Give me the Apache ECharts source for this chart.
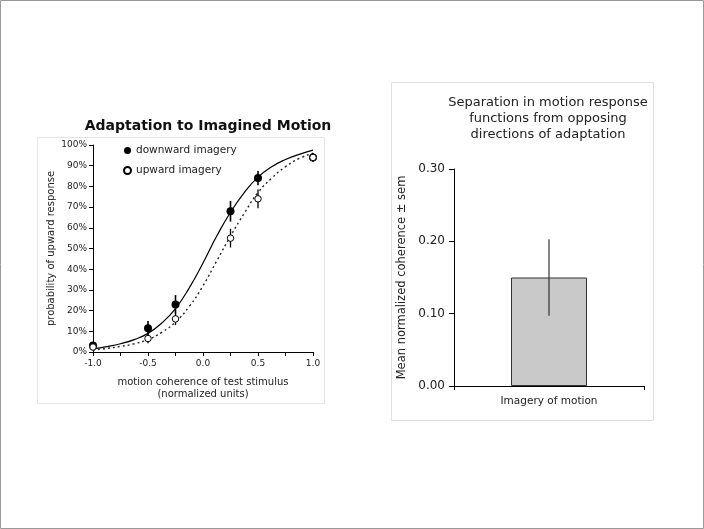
<!DOCTYPE html>
<html><head><meta charset="utf-8">
<script src="https://cdn.jsdelivr.net/npm/echarts@6/dist/echarts.min.js"></script>
<style>html,body{margin:0;padding:0;background:#fff}#c{width:704px;height:529px}</style>
</head><body><div id="c"></div>
<script>
// ---- Left chart data ----
var coherence = [-1.0, -0.5, -0.25, 0.25, 0.5, 1.0];
var downwardValues = [3.2, 11.5, 23.0, 68.0, 84.0, 94.0];
var downwardErrors = [1.0, 3.5, 4.5, 5.0, 3.5, 2.0];
var upwardValues = [2.4, 6.5, 16.0, 55.0, 74.0, 94.0];
var upwardErrors = [1.0, 2.3, 3.0, 4.5, 4.5, 2.0];
var curveX = [-1, -0.875, -0.75, -0.625, -0.5, -0.375, -0.25, -0.125, 0, 0.125, 0.25, 0.375, 0.5, 0.625, 0.75, 0.875, 1];
var downwardFit = [1.5, 2.6, 4, 6, 9, 14, 21, 31, 43, 56, 67.5, 77, 84.5, 89.5, 93, 95.5, 97.5];
var upwardFit = [1, 1.7, 2.7, 4, 6, 9.5, 14.5, 22, 32, 44, 56, 67, 77, 84, 89.5, 93.5, 96];
var xTickLabels = ['-1.0', '-0.5', '0.0', '0.5', '1.0'];
// ---- Right chart data ----
var barCategories = ['Imagery of motion'];
var barValues = [0.15];
var barErrors = [0.053];

var F = 'DejaVu Sans';
function zip(a, b) { return a.map(function (v, i) { return [v, b[i]]; }); }
function zip3(a, b, c) { return a.map(function (v, i) { return [v, b[i], c[i]]; }); }
function errRender(color, w) {
  return function (params, api) {
    var x = api.value(0), y = api.value(1), e = api.value(2);
    var p1 = api.coord([x, y - e]), p2 = api.coord([x, y + e]);
    return { type: 'line', shape: { x1: p1[0], y1: p1[1], x2: p2[0], y2: p2[1] }, style: { stroke: color, lineWidth: w } };
  };
}
var chart = echarts.init(document.getElementById('c'));
chart.setOption({
  animation: false,
  backgroundColor: '#fff',
  textStyle: { fontFamily: F },
  graphic: [
    { type: 'rect', shape: { x: 0.5, y: 0.5, width: 703, height: 528 }, style: { fill: 'none', stroke: '#999', lineWidth: 1 }, z: -10 },
    { type: 'rect', shape: { x: 37.5, y: 137.5, width: 287, height: 266 }, style: { fill: 'none', stroke: '#e6e6e6', lineWidth: 1 }, z: -10 },
    { type: 'rect', shape: { x: 391.5, y: 82.5, width: 262, height: 338 }, style: { fill: 'none', stroke: '#e0e0e0', lineWidth: 1 }, z: -10 }
  ],
  title: [
    { text: 'Adaptation to Imagined Motion', left: 203, top: 114, textAlign: 'center',
      textStyle: { fontFamily: F, fontSize: 14, fontWeight: 'bold', color: '#111' } },
    { text: 'Separation in motion response\nfunctions from opposing\ndirections of adaptation', left: 543, top: 90, textAlign: 'center',
      textStyle: { fontFamily: F, fontSize: 13, fontWeight: 'normal', color: '#222', lineHeight: 16 } }
  ],
  legend: {
    data: ['downward imagery', 'upward imagery'], orient: 'vertical', left: 118, top: 140,
    itemWidth: 7, itemHeight: 7, itemGap: 9,
    textStyle: { fontFamily: F, fontSize: 10.5, color: '#222' }
  },
  grid: [
    { left: 93, right: 704 - 313, top: 145, bottom: 529 - 352 },
    { left: 454, right: 704 - 644, top: 169, bottom: 529 - 386 }
  ],
  xAxis: [
    { gridIndex: 0, type: 'value', min: -1, max: 1, interval: 0.25,
      name: 'motion coherence of test stimulus\n(normalized units)', nameLocation: 'middle', nameGap: 24,
      nameTextStyle: { fontFamily: F, fontSize: 10, color: '#222', lineHeight: 12 },
      axisLine: { onZero: false, lineStyle: { color: '#000', width: 1 } },
      axisTick: { inside: false, length: 4, lineStyle: { color: '#000' } },
      axisLabel: { fontFamily: F, fontSize: 9, color: '#222', margin: 7,
        formatter: function (v) { var s = v.toFixed(1); return xTickLabels.indexOf(s) >= 0 && Math.abs(v * 2 - Math.round(v * 2)) < 1e-6 ? s : ''; } },
      splitLine: { show: false } },
    { gridIndex: 1, type: 'category', data: barCategories,
      axisLine: { lineStyle: { color: '#000', width: 1 } },
      axisTick: { show: true, length: 4, lineStyle: { color: '#000' } },
      axisLabel: { fontFamily: F, fontSize: 10.5, color: '#222', margin: 10 } }
  ],
  yAxis: [
    { gridIndex: 0, type: 'value', min: 0, max: 100, interval: 10,
      name: 'probability of upward response', nameLocation: 'middle', nameGap: 37,
      nameTextStyle: { fontFamily: F, fontSize: 10, color: '#222' },
      axisLine: { show: true, onZero: false, lineStyle: { color: '#000', width: 1 } },
      axisTick: { show: true, inside: false, length: 4, lineStyle: { color: '#000' } },
      axisLabel: { fontFamily: F, fontSize: 9, color: '#222', margin: 6, formatter: '{value}%' },
      splitLine: { show: false } },
    { gridIndex: 1, type: 'value', min: 0, max: 0.3, interval: 0.1,
      name: 'Mean normalized coherence \u00b1 sem', nameLocation: 'middle', nameGap: 46,
      nameTextStyle: { fontFamily: F, fontSize: 11.5, color: '#222' },
      axisLine: { show: true, onZero: false, lineStyle: { color: '#000', width: 1 } },
      axisTick: { show: true, inside: false, length: 5, lineStyle: { color: '#000' } },
      axisLabel: { fontFamily: F, fontSize: 12, color: '#222', margin: 9, formatter: function (v) { return v.toFixed(2); } },
      splitLine: { show: false } }
  ],
  series: [
    { type: 'line', xAxisIndex: 0, yAxisIndex: 0, data: zip(curveX, downwardFit), smooth: true, showSymbol: false,
      lineStyle: { color: '#000', width: 1.2 }, z: 2, silent: true },
    { type: 'line', xAxisIndex: 0, yAxisIndex: 0, data: zip(curveX, upwardFit), smooth: true, showSymbol: false,
      lineStyle: { color: '#222', width: 1.4, type: [2, 3] }, z: 2, silent: true },
    { type: 'custom', xAxisIndex: 0, yAxisIndex: 0, data: zip3(coherence, downwardValues, downwardErrors),
      renderItem: errRender('#000', 1.6), z: 3 },
    { type: 'custom', xAxisIndex: 0, yAxisIndex: 0, data: zip3(coherence, upwardValues, upwardErrors),
      renderItem: errRender('#000', 1.3), z: 3 },
    { name: 'downward imagery', type: 'scatter', xAxisIndex: 0, yAxisIndex: 0, data: zip(coherence, downwardValues),
      symbol: 'circle', symbolSize: 8, itemStyle: { color: '#000', borderColor: '#000', borderWidth: 0, opacity: 1 }, z: 4 },
    { name: 'upward imagery', type: 'scatter', xAxisIndex: 0, yAxisIndex: 0, data: zip(coherence, upwardValues),
      symbol: 'circle', symbolSize: 6.5, itemStyle: { color: '#fff', borderColor: '#000', borderWidth: 1, opacity: 1 }, z: 5 },
    { type: 'bar', xAxisIndex: 1, yAxisIndex: 1, data: barValues, barWidth: '40%',
      itemStyle: { color: '#c9c9c9', borderColor: '#333', borderWidth: 1 }, z: 2 },
    { type: 'custom', xAxisIndex: 1, yAxisIndex: 1, data: barValues.map(function (v, i) { return [i, v, barErrors[i]]; }),
      renderItem: errRender('#333', 1.2), z: 5 }
  ]
});
</script></body></html>
